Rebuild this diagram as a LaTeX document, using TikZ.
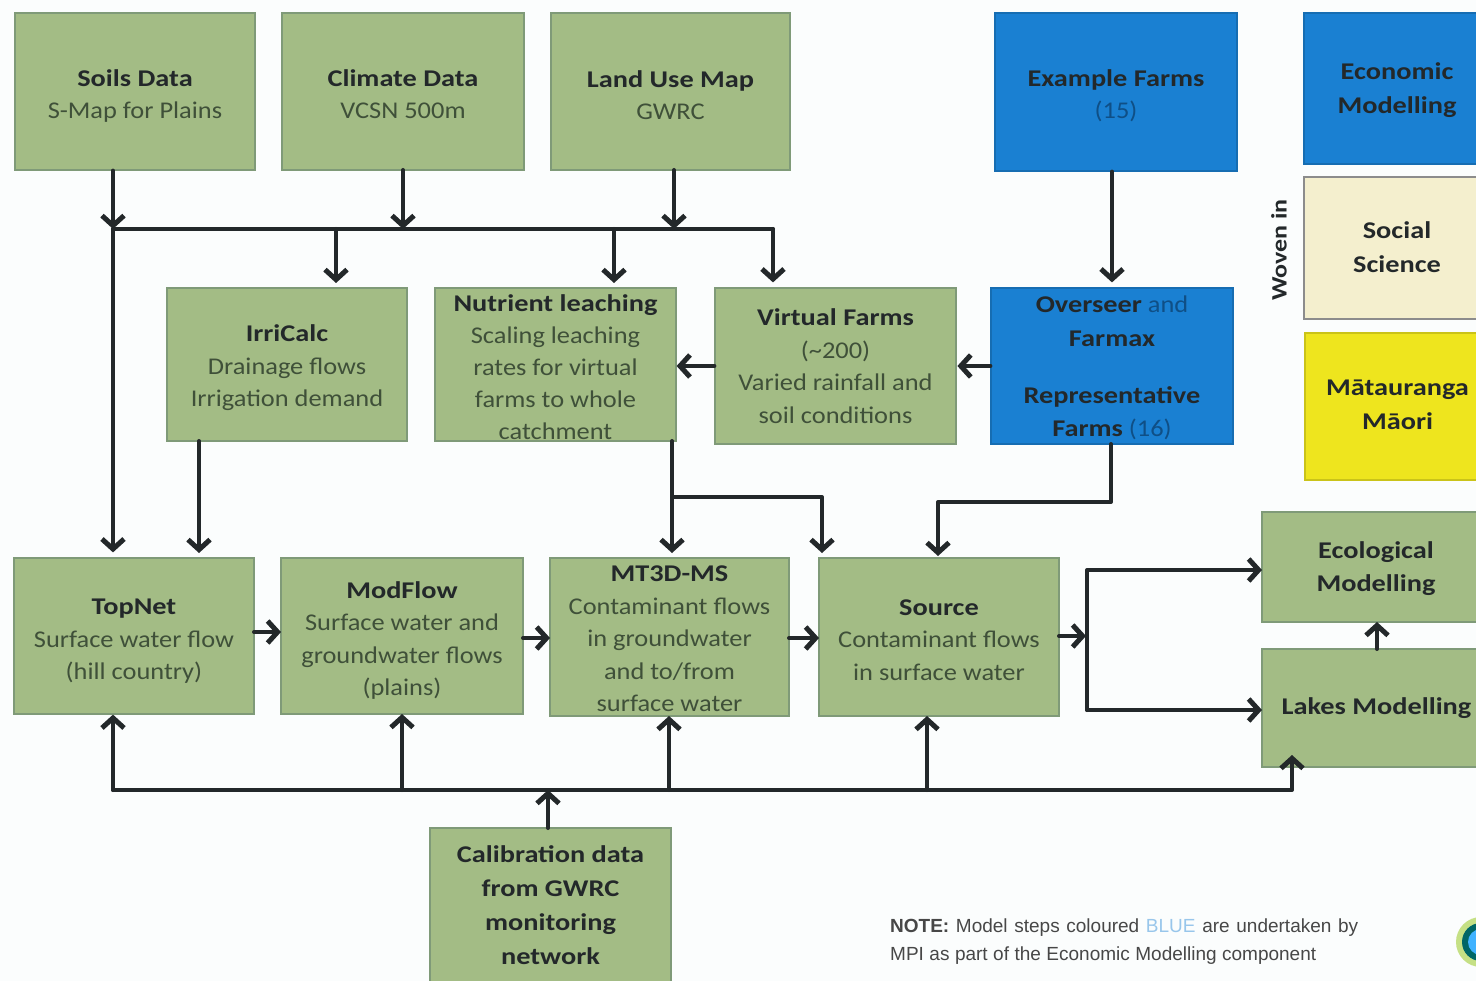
\documentclass[tikz,border=0pt]{standalone}
\usepackage{fontspec}
\setmainfont{Carlito}[FakeStretch=1.1,BoldFeatures={FakeStretch=1.18}]
\newfontfamily\notefont{Liberation Sans}
\usetikzlibrary{arrows.meta,calc}
\definecolor{bg}{HTML}{FBFDFD}
\definecolor{grn}{HTML}{A3BC85}
\definecolor{grnl}{HTML}{7F9A78}
\definecolor{blu}{HTML}{1A80D2}
\definecolor{crm}{HTML}{F4EFCE}
\definecolor{ylw}{HTML}{EEE51E}
\definecolor{ink}{HTML}{23282A}
\definecolor{sub}{HTML}{3F5039}
\definecolor{subb}{HTML}{0F4F86}
\tikzset{
  x=1pt,y=-1pt,
  boxbase/.style={rectangle,inner sep=0pt,align=center,text=sub,font=\fontsize{24}{32.5}\selectfont,line width=1.2pt},
  gbox/.style={boxbase,fill=grn,draw=grnl},
  bbox/.style={boxbase,fill=blu,draw=blu!85!black,text=subb},
  cbox/.style={boxbase,fill=crm,draw=black!45},
  ybox/.style={boxbase,fill=ylw,draw=ylw!85!black},
  wire/.style={draw=ink,line width=4pt,line cap=round,line join=round},
  flow/.style={wire,-{Straight Barb[length=10pt,width=22pt,line width=5pt]}},
  note/.style={inner sep=0pt,text=black!72,font=\notefont\fontsize{19}{28}\selectfont},
}
\newcommand{\bb}[1]{\textcolor{ink}{\textbf{#1}}}
\newcommand{\tsh}[1]{\rule{0pt}{\dimexpr 18pt+#1pt+#1pt\relax}}
\newcommand{\bsh}[1]{\rule[-#1pt]{0pt}{1pt}}
\newcommand{\mybox}[7]{% name style x1 y1 x2 y2 text
  \node[#2,minimum width=#5pt-#3pt,minimum height=#6pt-#4pt] (#1) at ({(#3+#5)/2},{(#4+#6)/2}) {#7};}
\begin{document}
\begin{tikzpicture}
\useasboundingbox[fill=bg] (0,0) rectangle (1476,981);
\mybox{soils}{gbox}{15}{13}{255}{170}{\tsh{4}\bb{Soils Data}\\S-Map for Plains}
\mybox{climate}{gbox}{282}{13}{524}{170}{\tsh{2}\bb{Climate Data}\\VCSN 500m}
\mybox{land}{gbox}{551}{13}{790}{170}{\tsh{3}\bb{Land Use Map}\\GWRC}
\mybox{example}{bbox}{995}{13}{1237}{171}{\tsh{3}\bb{Example Farms}\\(15)}
\mybox{econ}{bbox}{1304}{13}{1490}{164}{\tsh{1}\bb{Economic}\\[1.5pt]\bb{Modelling}}
\mybox{social}{cbox}{1304}{177}{1490}{319}{\bb{Social}\\[1.5pt]\bb{Science}\bsh{2}}
\mybox{mm}{ybox}{1305}{333}{1490}{480}{\bb{Mātauranga}\\[1.5pt]\bb{Māori}\bsh{4}}
\mybox{irri}{gbox}{167}{288}{407}{441}{\tsh{3}\bb{IrriCalc}\\Drainage flows\\Irrigation demand}
\mybox{nutr}{gbox}{435}{288}{676}{441}{\tsh{2}\bb{Nutrient leaching}\\[-.5pt]Scaling leaching\\[-.5pt]rates for virtual\\[-.5pt]farms to whole\\[-.5pt]catchment}
\mybox{virt}{gbox}{715}{288}{956}{444}{\bb{Virtual Farms}\\(\textasciitilde 200)\\Varied rainfall and\\soil conditions}
\mybox{over}{bbox}{991}{288}{1233}{444}{\tsh{1}\bb{Overseer} and\\[1.5pt]\bb{Farmax}\\[24.5pt]\bb{Representative}\\\bb{Farms} (16)}
\mybox{top}{gbox}{14}{558}{254}{714}{\tsh{4}\bb{TopNet}\\Surface water flow\\(hill country)}
\mybox{mod}{gbox}{281}{558}{523}{714}{\tsh{4}\bb{ModFlow}\\Surface water and\\groundwater flows\\(plains)}
\mybox{mt}{gbox}{550}{558}{789}{716}{\tsh{1}\bb{MT3D-MS}\\Contaminant flows\\in groundwater\\and to/from\\surface water}
\mybox{src}{gbox}{819}{558}{1059}{716}{\tsh{2}\bb{Source}\\Contaminant flows\\in surface water}
\mybox{eco}{gbox}{1262}{512}{1490}{622}{\tsh{1}\bb{Ecological}\\\bb{Modelling}}
\mybox{lakes}{gbox}{1262}{649}{1490}{767}{\hspace*{1pt}\bb{Lakes Modelling}}
\mybox{cal}{gbox}{430}{828}{671}{995}{\bb{Calibration data}\\[1.5pt]\bb{from GWRC}\\[1.5pt]\bb{monitoring}\\[1.5pt]\bb{network}\bsh{12}}
\node[rotate=90,text=ink,font=\fontsize{22}{24}\selectfont\bfseries,inner sep=0pt] (woven) at (1279,250) {Woven in};
\node[note,anchor=west] (n1) at (890,928) {\makebox[468pt][s]{\textbf{NOTE:} Model steps coloured \textcolor{blu!45}{BLUE} are undertaken by}};
\node[note,anchor=west] (n2) at (890,956) {\makebox[426pt][s]{MPI as part of the Economic Modelling component}};
% upper bus
\coordinate (busL) at (113,229);
\coordinate (busR) at (773,229);
\draw[wire] (busL) -- (busR);
\draw[flow] (busL |- soils.south) -- (busL);
\draw[flow] (busL) -- ([yshift=5pt]busL |- top.north);
\draw[flow] (403,170) -- (403,229);
\draw[flow] (674,170) -- (674,229);
\draw[flow] (busR) -- ([yshift=5pt]busR |- virt.north);
\draw[flow] (336,229) -- (336,283);
\draw[flow] (614,229) -- (614,283);
% mid
\draw[flow] (example.south -| over.north) -- ([yshift=5pt]over.north);
\draw[flow] (over.west) -- ([xshift=-33pt]over.west);
\draw[flow] (virt.west) -- (virt.west -| nutr.east);
\draw[flow] (199,441) -- (199,553);
\draw[flow] (672,441) -- (672,553);
\draw[flow] (672,497) -- (822,497) -- (822,553);
\draw[flow] (1111,444) -- (1111,502) -- (938,502) -- (938,556);
% model chain
\draw[flow] (254,632) -- (281,632);
\draw[flow] (523,638) -- (550,638);
\draw[flow] (789,638) -- (819,638);
\draw[flow] (1059,636) -- (1086,636);
\draw[flow] (1087,710) -- (1087,570) -- (1262,570);
\draw[flow] (1087,710) -- (1262,710);
\draw[flow] (1377,649) -- (1377,622);
% lower bus
\coordinate (lowL) at (113,790);
\coordinate (lowR) at (1292,790);
\draw[flow] (lowL) -- (lowR) -- (1292,755);
\draw[flow] (lowL) -- (lowL |- top.south);
\draw[flow] (402,790) -- (402,714);
\draw[flow] (669,790) -- (669,716);
\draw[flow] (927,790) -- (927,716);
\draw[flow] (548,828) -- (548,790);
% logo
\fill[green!30!yellow!60!gray!60] (1481,942) circle (25);
\fill[teal!80!black] (1481,942) circle (19);
\fill[blue!40!cyan!75] (1481,942) circle (13);
\end{tikzpicture}
\end{document}
